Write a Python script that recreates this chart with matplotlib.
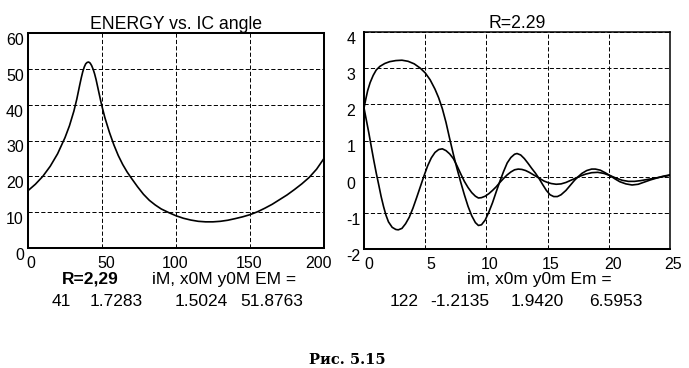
import matplotlib
matplotlib.use("Agg")
import matplotlib.pyplot as plt
from matplotlib.transforms import ScaledTranslation

# ---------------- data ----------------
# Left panel: energy vs. initial-condition angle
angle = [0, 5, 10, 15, 20, 25, 28, 31, 33, 35, 36, 37, 38, 39, 40, 41, 42, 43, 44, 45, 46,
         47, 48, 49, 50, 52, 55, 58, 61, 64, 67, 70, 74, 78, 82, 86, 90, 95, 100, 105, 110,
         115, 120, 125, 130, 135, 140, 145, 150, 155, 160, 165, 170, 175, 180, 185, 190,
         195, 200]
energy = [16.0, 17.8, 20.0, 22.8, 26.3, 30.8, 34.1, 38.2, 41.6, 45.6, 47.5, 49.2, 50.5,
          51.4, 51.8, 51.9, 51.6, 50.9, 49.9, 48.6, 47.0, 45.1, 43.2, 41.3, 39.5, 36.3,
          32.3, 28.8, 25.8, 23.3, 21.2, 19.4, 17.1, 15.0, 13.3, 12.0, 10.9, 9.9, 9.0, 8.3,
          7.8, 7.45, 7.3, 7.3, 7.45, 7.75, 8.2, 8.7, 9.3, 10.1, 11.1, 12.2, 13.5, 14.8,
          16.3, 17.9, 19.7, 22.0, 25.0]

# Right panel: two trajectories for R = 2.29
t1 = [0, 0.15, 0.3, 0.5, 0.75, 1.0, 1.3, 1.7, 2.1, 2.6, 3.1, 3.6, 4.1, 4.6, 5.0, 5.4, 5.8,
      6.1, 6.4, 6.7, 7.0, 7.3, 7.6, 7.9, 8.2, 8.5, 8.8, 9.1, 9.35, 9.6, 9.9, 10.2, 10.5,
      10.8, 11.1, 11.4, 11.7, 12.0, 12.3, 12.5, 12.8, 13.1, 13.4, 13.7, 14.0, 14.3, 14.6,
      14.9, 15.2, 15.5, 15.8, 16.1, 16.5, 16.9, 17.2, 17.5, 17.8, 18.2, 18.6, 18.9, 19.3,
      19.7, 20.1, 20.5, 20.9, 21.4, 21.9, 22.4, 22.9, 23.4, 23.9, 24.4, 25.0]
y1 = [1.9, 2.15, 2.38, 2.6, 2.8, 2.95, 3.05, 3.13, 3.18, 3.21, 3.22, 3.19, 3.12, 3.0, 2.87,
      2.68, 2.42, 2.18, 1.88, 1.5, 1.05, 0.62, 0.22, -0.15, -0.5, -0.82, -1.08, -1.27,
      -1.35, -1.33, -1.2, -0.98, -0.72, -0.42, -0.13, 0.14, 0.38, 0.53, 0.62, 0.64, 0.6,
      0.5, 0.37, 0.23, 0.1, -0.05, -0.22, -0.38, -0.5, -0.55, -0.55, -0.5, -0.38, -0.22,
      -0.1, 0.0, 0.09, 0.17, 0.21, 0.21, 0.18, 0.11, 0.03, -0.06, -0.14, -0.2, -0.23,
      -0.21, -0.15, -0.09, -0.04, 0.01, 0.05]

t2 = [0, 0.2, 0.4, 0.6, 0.8, 1.0, 1.2, 1.4, 1.6, 1.8, 2.0, 2.3, 2.6, 2.8, 3.1, 3.4, 3.7,
      4.0, 4.3, 4.6, 4.9, 5.2, 5.5, 5.8, 6.1, 6.4, 6.7, 7.0, 7.3, 7.6, 7.9, 8.2, 8.5, 8.8,
      9.1, 9.35, 9.6, 9.9, 10.2, 10.5, 10.8, 11.1, 11.4, 11.7, 12.0, 12.3, 12.6, 12.9,
      13.2, 13.5, 13.8, 14.1, 14.4, 14.7, 15.0, 15.3, 15.7, 16.1, 16.5, 16.9, 17.3, 17.7,
      18.1, 18.6, 19.1, 19.6, 20.1, 20.6, 21.1, 21.6, 22.1, 22.6, 23.1, 23.6, 24.1, 24.6,
      25.0]
y2 = [1.9, 1.55, 1.2, 0.82, 0.45, 0.1, -0.22, -0.55, -0.83, -1.07, -1.25, -1.4, -1.46,
      -1.47, -1.43, -1.3, -1.12, -0.87, -0.58, -0.28, 0.02, 0.3, 0.52, 0.67, 0.75, 0.77,
      0.72, 0.63, 0.5, 0.3, 0.08, -0.13, -0.3, -0.44, -0.54, -0.59, -0.58, -0.54, -0.47,
      -0.38, -0.28, -0.16, -0.05, 0.05, 0.13, 0.19, 0.21, 0.2, 0.17, 0.12, 0.06, 0.0,
      -0.06, -0.12, -0.16, -0.19, -0.21, -0.2, -0.16, -0.1, -0.04, 0.02, 0.07, 0.11,
      0.12, 0.09, 0.03, -0.04, -0.1, -0.13, -0.13, -0.11, -0.08, -0.05, -0.02, 0.01, 0.04]

left_xticks = [0, 50, 100, 150, 200]
left_yticks = [0, 10, 20, 30, 40, 50, 60]
right_xticks = [0, 5, 10, 15, 20, 25]
right_yticks = [-2, -1, 0, 1, 2, 3, 4]

left_title = "ENERGY vs. IC angle"
right_title = "R=2.29"
left_label_bold = "R=2,29"
left_header = "iM, x0M y0M EM ="
left_values = ["41", "1.7283", "1.5024", "51.8763"]
right_header = "im, x0m y0m Em ="
right_values = ["122", "-1.2135", "1.9420", "6.5953"]
caption = "Рис. 5.15"

# ---------------- style ----------------
plt.rcParams['font.family'] = ['Liberation Sans', 'DejaVu Sans']
plt.rcParams['lines.scale_dashes'] = False

W, H = 689, 368
DPI = 100
fig = plt.figure(figsize=(W / DPI, H / DPI), dpi=DPI)
fig.patch.set_facecolor('white')


def px_axes(x0, y0, x1, y1):
    return fig.add_axes([x0 / W, 1 - y1 / H, (x1 - x0) / W, (y1 - y0) / H])


def style_axes(ax, lw_lb, lw_tr):
    for s in ('left', 'bottom'):
        ax.spines[s].set_linewidth(lw_lb)
    for s in ('top', 'right'):
        ax.spines[s].set_linewidth(lw_tr)
    ax.grid(True, color='black', linewidth=0.7, linestyle=(0, (3.0, 1.6)))
    ax.set_axisbelow(True)


def shift_labels(labels, dxs):
    for lbl, dx in zip(labels, dxs):
        lbl.set_transform(lbl.get_transform() + ScaledTranslation(dx / DPI, 0, fig.dpi_scale_trans))


TICK_FS = 11.5
TITLE_FS = 12.7
TEXT_FS = 12.5
LW = 1.2

# ---------------- left panel ----------------
axL = px_axes(28, 33, 324, 248)
axL.plot(angle, energy, color='black', linewidth=LW, solid_joinstyle='round')
axL.set_xlim(0, 200)
axL.set_ylim(0, 60)
axL.set_xticks(left_xticks, labels=[str(v) for v in left_xticks], fontsize=TICK_FS)
axL.set_yticks(left_yticks, labels=[str(v) for v in left_yticks], fontsize=TICK_FS, va='top')
axL.tick_params(axis='both', length=0)
axL.tick_params(axis='x', pad=6)
axL.tick_params(axis='y', pad=3)
style_axes(axL, 1.45, 1.45)
axL.set_title(left_title, fontsize=TITLE_FS, pad=3)
shift_labels(axL.get_xticklabels(), [3, 4, -1, -1, -6])

# ---------------- right panel ----------------
axR = px_axes(364, 32, 670, 249)
axR.plot(t1, y1, color='black', linewidth=LW, solid_joinstyle='round')
axR.plot(t2, y2, color='black', linewidth=LW, solid_joinstyle='round')
axR.set_xlim(0, 25)
axR.set_ylim(-2, 4)
axR.set_xticks(right_xticks, labels=[str(v) for v in right_xticks], fontsize=TICK_FS)
axR.set_yticks(right_yticks, labels=[str(v) for v in right_yticks], fontsize=TICK_FS,
               va='top', ha='left')
axR.tick_params(axis='both', length=0)
axR.tick_params(axis='x', pad=6)
axR.tick_params(axis='y', pad=12.5)
style_axes(axR, 1.45, 1.1)
axR.set_title(right_title, fontsize=TITLE_FS, pad=3)
shift_labels(axR.get_xticklabels(), [5, 6, 3, 3, 4, 3.5])


# ---------------- text below ----------------
def ftext(x, y, s, **kw):
    fig.text(x / W, 1 - y / H, s, va='baseline', ha='center', **kw)


ftext(90, 284, left_label_bold, fontsize=TEXT_FS, fontweight='bold')
ftext(224.5, 284, left_header, fontsize=TEXT_FS)
for cx, s in zip([61.5, 116, 201.5, 271.5], left_values):
    ftext(cx, 306, s, fontsize=TEXT_FS)

ftext(539, 284, right_header, fontsize=TEXT_FS)
for cx, s in zip([404.5, 459.5, 537.5, 616], right_values):
    ftext(cx, 306, s, fontsize=TEXT_FS)

ftext(347, 364, caption, fontsize=10.5, fontweight='bold', family=['DejaVu Serif'])

fig.savefig('out.png', dpi=DPI, facecolor='white')
